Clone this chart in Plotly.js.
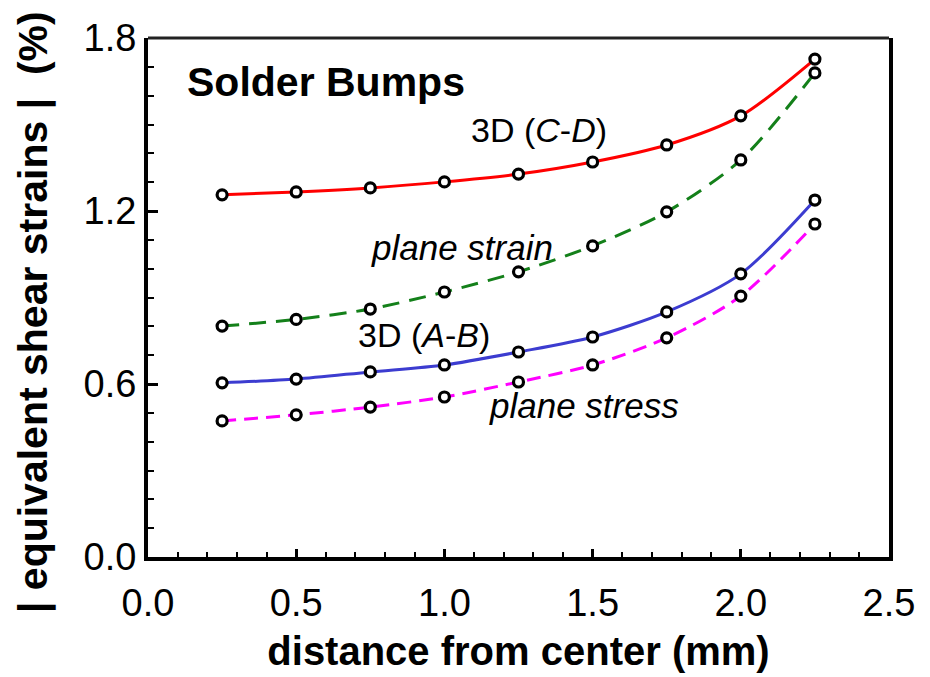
<!DOCTYPE html>
<html>
<head>
<meta charset="utf-8">
<script src="https://cdn.plot.ly/plotly-3.0.1.min.js"></script>
<style>
  html, body { margin: 0; padding: 0; background: #fff; }
  #chart { width: 930px; height: 677px; }
</style>
</head>
<body>
<div id="chart"></div>
<script>
// distance from center (mm)
const distance = [0.25, 0.5, 0.75, 1.0, 1.25, 1.5, 1.75, 2.0, 2.25];
// |equivalent shear strains| (%)
const cd3D        = [1.256, 1.266, 1.280, 1.301, 1.328, 1.370, 1.429, 1.530, 1.727];
const planeStrain = [0.801, 0.824, 0.860, 0.919, 0.989, 1.079, 1.197, 1.377, 1.679];
const ab3D        = [0.604, 0.617, 0.642, 0.666, 0.711, 0.763, 0.850, 0.982, 1.238];
const planeStress = [0.472, 0.493, 0.520, 0.555, 0.607, 0.666, 0.760, 0.905, 1.155];

const xTicks = [0.0, 0.5, 1.0, 1.5, 2.0, 2.5];
const xTickText = ['0.0', '0.5', '1.0', '1.5', '2.0', '2.5'];
const yTicks = [0.0, 0.6, 1.2, 1.8];
const yTickText = ['0.0', '0.6', '1.2', '1.8'];
const yTitle = '| equivalent shear strains |  (%)';
const xTitle = 'distance from center (mm)';

const FONT = 'Arial, "Liberation Sans", sans-serif';

const marker = {symbol: 'circle', size: 10, color: '#ffffff', line: {color: '#000000', width: 3.2}};

function series(y, color, dash) {
  return {
    x: distance, y: y, type: 'scatter', mode: 'lines+markers',
    line: {color: color, width: 3, shape: 'spline', smoothing: 0.8, dash: dash},
    marker: marker, showlegend: false, hoverinfo: 'x+y'
  };
}

const data = [
  series(cd3D, '#ff0000', 'solid'),
  series(planeStrain, '#14801a', '17px,10px'),
  series(ab3D, '#3c3cd0', 'solid'),
  series(planeStress, '#ff00ff', '14px,8px')
];

const layout = {
  width: 930, height: 677,
  margin: {l: 148, r: 41, t: 38, b: 120},
  paper_bgcolor: '#ffffff', plot_bgcolor: '#ffffff',
  font: {family: FONT, color: '#000000'},
  showlegend: false,
  xaxis: {
    range: [0, 2.5], tickvals: xTicks, ticktext: xTickText,
    showgrid: false, zeroline: false,
    showline: true, linewidth: 4, linecolor: '#000000', mirror: false,
    ticks: 'inside', ticklen: 8, tickwidth: 3, tickcolor: '#000000',
    minor: {dtick: 0.1, tick0: 0, ticks: 'inside', ticklen: 5, tickwidth: 2, tickcolor: '#000000', showgrid: false},
    tickfont: {size: 38, family: FONT, color: '#000000'},
    ticklabelstandoff: 9,
    title: {text: '<b>' + xTitle + '</b>', font: {size: 40, family: FONT, color: '#000000'}, standoff: 15}
  },
  yaxis: {
    range: [0, 1.8], tickvals: yTicks, ticktext: yTickText,
    showgrid: false, zeroline: false,
    showline: true, linewidth: 4, linecolor: '#000000', mirror: true,
    ticks: 'inside', ticklen: 10, tickwidth: 3, tickcolor: '#000000',
    minor: {dtick: 0.1, tick0: 0, ticks: 'inside', ticklen: 6, tickwidth: 2, tickcolor: '#000000', showgrid: false},
    tickfont: {size: 38, family: FONT, color: '#000000'}
  },
  shapes: [
    {type: 'line', xref: 'paper', yref: 'paper', x0: 0, x1: 1, y0: 1, y1: 1, line: {color: '#222222', width: 3}}
  ],
  annotations: [
    {text: '<b>' + yTitle.replace(/ /g, '\u00a0') + '</b>', textangle: -90, xref: 'paper', yref: 'paper', x: 0, y: 0.472, xshift: -115, xanchor: 'center', yanchor: 'middle', showarrow: false, font: {size: 41, family: FONT, color: '#000000'}},
    {text: '<b>Solder Bumps</b>', x: 0.125, y: 1.648, xref: 'x', yref: 'y', xanchor: 'left', yanchor: 'middle', showarrow: false, font: {size: 41, family: FONT}},
    {text: '3D (<i>C</i>-<i>D</i>)', x: 1.319, y: 1.48, xref: 'x', yref: 'y', xanchor: 'center', yanchor: 'middle', showarrow: false, font: {size: 34, family: FONT}},
    {text: '<i>plane strain</i>', x: 1.06, y: 1.072, xref: 'x', yref: 'y', xanchor: 'center', yanchor: 'middle', showarrow: false, font: {size: 35, family: FONT}},
    {text: '3D (<i>A</i>-<i>B</i>)', x: 0.931, y: 0.77, xref: 'x', yref: 'y', xanchor: 'center', yanchor: 'middle', showarrow: false, font: {size: 34, family: FONT}},
    {text: '<i>plane stress</i>', x: 1.471, y: 0.527, xref: 'x', yref: 'y', xanchor: 'center', yanchor: 'middle', showarrow: false, font: {size: 35, family: FONT}}
  ]
};

Plotly.newPlot('chart', data, layout, {displayModeBar: false, staticPlot: true});
</script>
</body>
</html>
